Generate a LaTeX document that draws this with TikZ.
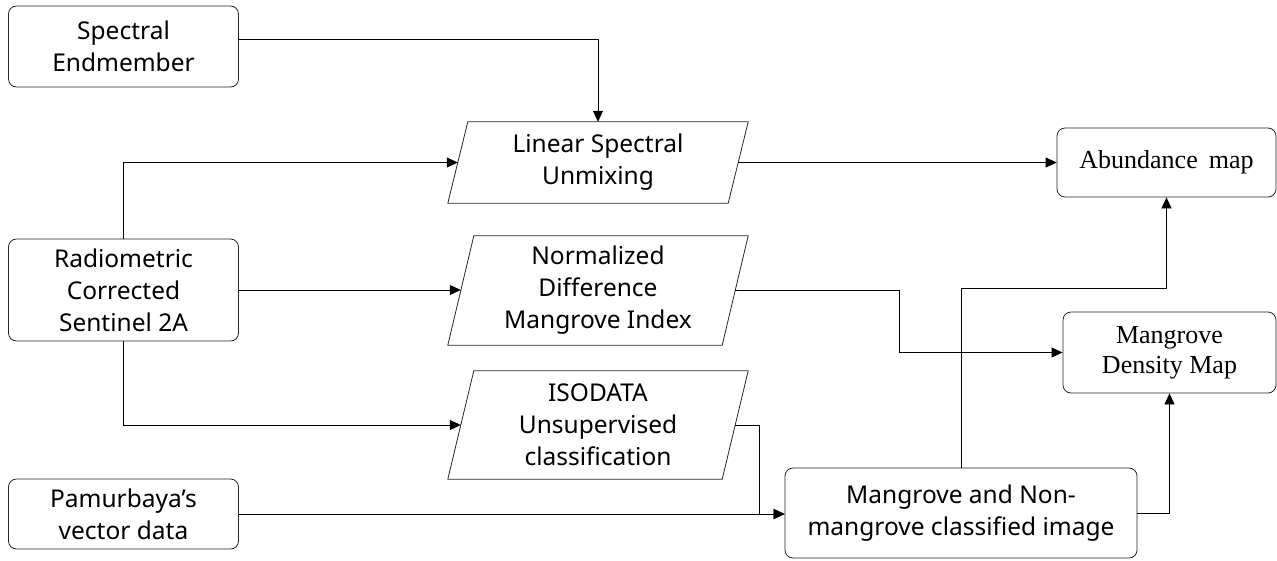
\documentclass[tikz,border=0pt]{standalone}
\usepackage{fontspec}
\setmainfont{Noto Sans}
\newfontfamily\serifnode{Liberation Serif}
\usetikzlibrary{arrows.meta,calc}
\begin{document}
\begin{tikzpicture}[x=1pt,y=-1pt,
  box/.style={draw=black!85, line width=0.8pt, rounded corners=8pt, align=center, inner sep=0pt, font=\fontsize{24.5}{32}\selectfont},
  sbox/.style={box, font=\serifnode\fontsize{26}{30}\selectfont},
  para/.style={align=center, inner sep=0pt, font=\fontsize{24.5}{32}\selectfont},
  conn/.style={line width=0.8pt, -{Triangle[length=11pt,width=10pt]}},
  plain/.style={line width=0.8pt, draw=black!85}
]
\useasboundingbox (0,0) rectangle (1277,560);
% left boxes
\node[box, minimum width=230pt, minimum height=81pt] (spec) at (123.5,46.5) {Spectral\\Endmember};
\node[box, minimum width=230pt, minimum height=102pt] (rad) at (123.5,290) {Radiometric\\Corrected\\Sentinel 2A};
\node[box, minimum width=230pt, minimum height=70pt] (pam) at (123.5,514) {Pamurbaya’s\\vector data};
% parallelograms
\node[para, minimum width=280pt, minimum height=81pt] (lsu) at (598,162.5) {Linear Spectral\\Unmixing};
\node[para, minimum width=274pt, minimum height=109pt] (ndmi) at (598,290.5) {Normalized\\Difference\\Mangrove Index};
\node[para, minimum width=274pt, minimum height=108pt] (iso) at (598,425) {ISODATA\\Unsupervised\\classification};
\draw[plain] ([xshift=-10pt]lsu.south west) -- ([xshift=-10pt]lsu.south east) -- ([xshift=10pt]lsu.north east) -- ([xshift=10pt]lsu.north west) -- cycle;
\draw[plain] ([xshift=-13pt]ndmi.south west) -- ([xshift=-13pt]ndmi.south east) -- ([xshift=13pt]ndmi.north east) -- ([xshift=13pt]ndmi.north west) -- cycle;
\draw[plain] ([xshift=-13pt]iso.south west) -- ([xshift=-13pt]iso.south east) -- ([xshift=13pt]iso.north east) -- ([xshift=13pt]iso.north west) -- cycle;
% right boxes
\node[sbox, minimum width=219pt, minimum height=69pt] (abund) at (1166.5,162.5) {Abundance\hspace{11pt}map};
\node[sbox, minimum width=213pt, minimum height=81pt] (dens) at (1169.5,352.5) {Mangrove\\Density Map};
\node[box, minimum width=352pt, minimum height=90pt] (mang) at (961,513) {Mangrove and Non-\\mangrove classified image};
% helper coordinates
\coordinate (k1) at (899,0);
\coordinate (k2) at (759,0);
\coordinate (k3) at (0,288);
% connectors
\draw[conn] ([yshift=7.5pt]spec.east) -| (lsu.north);
\draw[conn] (rad.north) |- (lsu.west);
\draw[conn] (rad.east) -- (rad.east -| ndmi.west);
\draw[conn] (rad.south) |- (iso.west);
\draw[conn] (lsu.east) -- (abund.west);
\draw[conn] (ndmi.east) -- (ndmi.east -| k1) -- (k1 |- dens.west) -- (dens.west);
\draw[conn] (pam.east) -- (pam.east -| mang.west);
\draw[conn] (iso.east) -- (iso.east -| k2) -- (k2 |- pam.east) -- (pam.east -| mang.west);
\draw[conn] (mang.north) -- (mang.north |- k3) -| (abund.south);
\draw[conn] (mang.east) -| (dens.south);
\end{tikzpicture}
\end{document}
